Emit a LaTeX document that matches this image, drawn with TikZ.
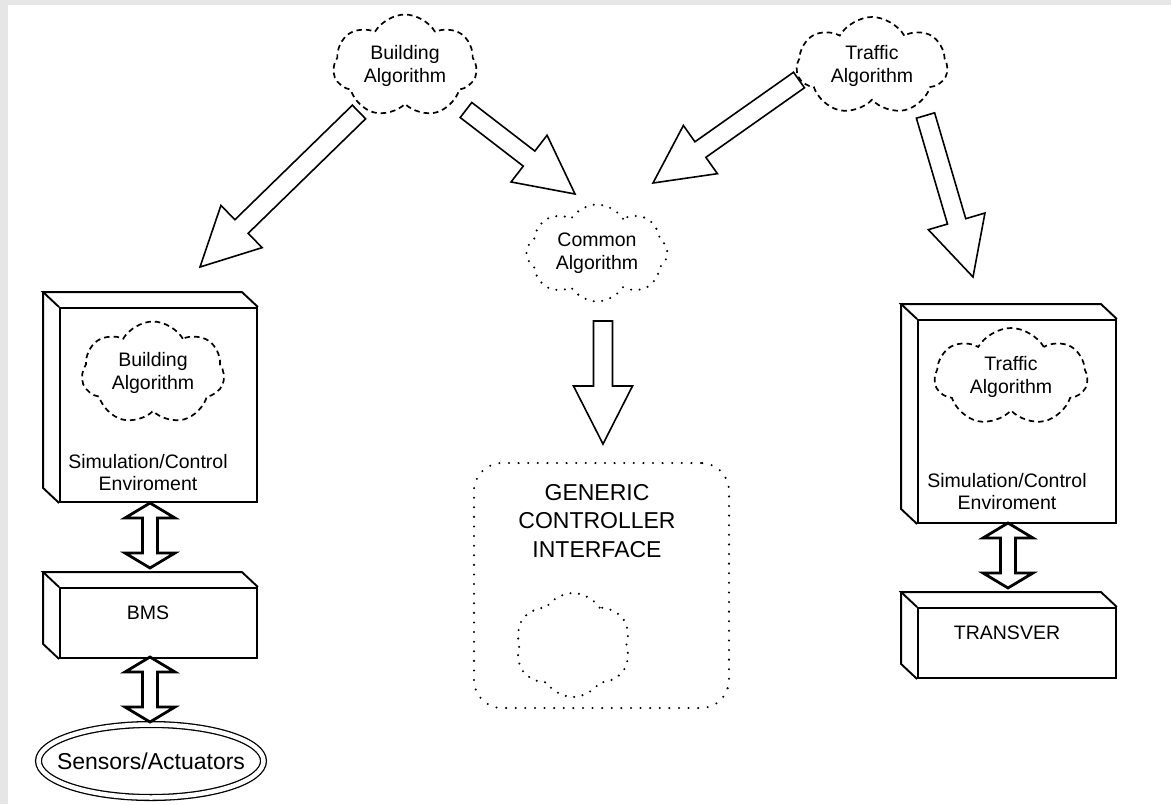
\documentclass[tikz,border=0pt]{standalone}
\usepackage{fontspec}
\setmainfont{Liberation Sans}
\usetikzlibrary{shapes.symbols,shapes.geometric,calc}
\definecolor{bggray}{RGB}{230,230,230}
\newcommand\mlines[2][23]{\makebox[0pt]{\fontsize{19.5}{#1}\selectfont\begin{tabular}{@{}c@{}}#2\end{tabular}}}
\newcommand\blockarrow[2]{%
  \draw[barrow] ($(#1)!9.5pt!90:(#2)$) -- ($(#2)!58pt!(#1)!9.5pt!90:(#2)$) -- ($(#2)!58pt!(#1)!29.5pt!90:(#2)$) -- (#2)
   -- ($(#2)!58pt!(#1)!29.5pt!-90:(#2)$) -- ($(#2)!58pt!(#1)!9.5pt!-90:(#2)$) -- ($(#1)!9.5pt!-90:(#2)$) -- cycle;}
\newcommand\dblarrow[2]{%
  \draw[darrow] (#1) -- ($(#1)!15pt!(#2)!25pt!90:(#2)$) -- ($(#1)!15pt!(#2)!7.5pt!90:(#2)$)
   -- ($(#2)!15pt!(#1)!7.5pt!-90:(#1)$) -- ($(#2)!15pt!(#1)!25pt!-90:(#1)$) -- (#2)
   -- ($(#2)!15pt!(#1)!25pt!90:(#1)$) -- ($(#2)!15pt!(#1)!7.5pt!90:(#1)$)
   -- ($(#1)!15pt!(#2)!7.5pt!-90:(#2)$) -- ($(#1)!15pt!(#2)!25pt!-90:(#2)$) -- cycle;}
\begin{document}
\begin{tikzpicture}[x=1pt,y=-1pt,
  barrow/.style={draw=black,line width=1.6pt,fill=white,line join=miter},
  darrow/.style={draw=black,line width=2.8pt,fill=white,line join=miter},
  box/.style={draw=black,line width=1.9pt,rectangle,inner sep=0pt},
  boxline/.style={draw=black,line width=1.9pt,line join=miter},
  dcloud/.style={cloud,cloud puffs=7,cloud puff arc=120,cloud ignores aspect,draw=black,line width=1.7pt,dash pattern=on 5.5pt off 4pt,inner sep=0pt},
  pcloud/.style={cloud,cloud puffs=8,cloud puff arc=115,cloud ignores aspect,draw=black,line width=2.3pt,dash pattern=on 0pt off 8.5pt,line cap=round,inner sep=0pt},
  lbl/.style={inner sep=0pt,font=\fontsize{19.5}{23}\selectfont},
  big/.style={inner sep=0pt,align=center,font=\fontsize{23}{28.5}\selectfont}
]
\useasboundingbox (0,0) rectangle (1171,804);
\fill[bggray] (0,0) rectangle (1171,804);
\fill[white] (8,5) rectangle (1171,804);

% clouds
\node[dcloud,minimum width=144,minimum height=103] (bcloud) at (405,66) {\mlines{Building\\Algorithm}};
\node[dcloud,minimum width=151,minimum height=98] (tcloud) at (872,66) {\mlines{Traffic\\Algorithm}};
\node[pcloud,minimum width=141,minimum height=97] (ccloud) at (597,253) {\mlines{Common\\Algorithm}};

% left column
\node[box,minimum width=197,minimum height=194] (simL) at (158.5,405) {};
\draw[boxline] (simL.north east) -- ++(-16,-15) -- ($(simL.north west)+(-16,-15)$) -- (simL.north west);
\draw[boxline] ($(simL.north west)+(-16,-15)$) -- ($(simL.south west)+(-16,-15)$) -- (simL.south west);
\node[dcloud,minimum width=143,minimum height=103] (lcloud) at (153,373) {\mlines{Building\\Algorithm}};
\node[inner sep=0pt] (simLtxt) at (148,475) {\mlines[22]{Simulation/Control\\Enviroment}};

\node[box,minimum width=197,minimum height=70] (bms) at (158.5,623) {};
\draw[boxline] (bms.north east) -- ++(-16,-15) -- ($(bms.north west)+(-16,-15)$) -- (bms.north west);
\draw[boxline] ($(bms.north west)+(-16,-15)$) -- ($(bms.south west)+(-16,-15)$) -- (bms.south west);
\node[lbl] (bmstxt) at (148,613) {BMS};

\node[ellipse,draw=black,line width=1.3pt,double,double distance=4.5pt,minimum width=225,minimum height=73,inner sep=0pt] (sens) at (151,761)
  {\makebox[0pt]{\fontsize{23}{28}\selectfont Sensors/Actuators}};

% right column
\node[box,minimum width=198,minimum height=203] (simR) at (1017,421.5) {};
\draw[boxline] (simR.north east) -- ++(-16,-15) -- ($(simR.north west)+(-16,-15)$) -- (simR.north west);
\draw[boxline] ($(simR.north west)+(-16,-15)$) -- ($(simR.south west)+(-16,-15)$) -- (simR.south west);
\node[dcloud,minimum width=153,minimum height=98] (rcloud) at (1011,377) {\mlines{Traffic\\Algorithm}};
\node[inner sep=0pt] (simRtxt) at (1007,494) {\mlines[22]{Simulation/Control\\Enviroment}};

\node[box,minimum width=198,minimum height=70] (trans) at (1017,643) {};
\draw[boxline] (trans.north east) -- ++(-16,-15) -- ($(trans.north west)+(-16,-15)$) -- (trans.north west);
\draw[boxline] ($(trans.north west)+(-16,-15)$) -- ($(trans.south west)+(-16,-15)$) -- (trans.south west);
\node[lbl] (transtxt) at (1007,633) {TRANSVER};

% generic controller interface
\node[draw=black,line width=2.3pt,dash pattern=on 0pt off 9.6pt,line cap=round,rounded corners=28pt,minimum width=255,minimum height=245,inner sep=0pt] (gci) at (601.5,585.5) {};
\node[big] (gcitxt) at (597,521) {GENERIC\\CONTROLLER\\INTERFACE};
\node[pcloud,cloud puffs=6,minimum width=116,minimum height=104] (blob) at (573,645) {};

% arrow end points
\coordinate (a1s) at (359,112);   \coordinate (a1e) at (200,267);
\coordinate (a2s) at (466,110);   \coordinate (a2e) at (575,194);
\coordinate (a3s) at (799,80);    \coordinate (a3e) at (653,183);
\coordinate (a4s) at (925.5,115.5); \coordinate (a4e) at (973,277);
\coordinate (a5s) at (603,321);   \coordinate (a5e) at (603,444);
\coordinate (d1s) at (150,503);   \coordinate (d1e) at (150,568);
\coordinate (d2s) at (150,657);   \coordinate (d2e) at (150,722);
\coordinate (d3s) at (1008,523);  \coordinate (d3e) at (1008,588);

\blockarrow{a1s}{a1e}
\blockarrow{a2s}{a2e}
\blockarrow{a3s}{a3e}
\blockarrow{a4s}{a4e}
\blockarrow{a5s}{a5e}
\dblarrow{d1s}{d1e}
\dblarrow{d2s}{d2e}
\dblarrow{d3s}{d3e}
\end{tikzpicture}
\end{document}
